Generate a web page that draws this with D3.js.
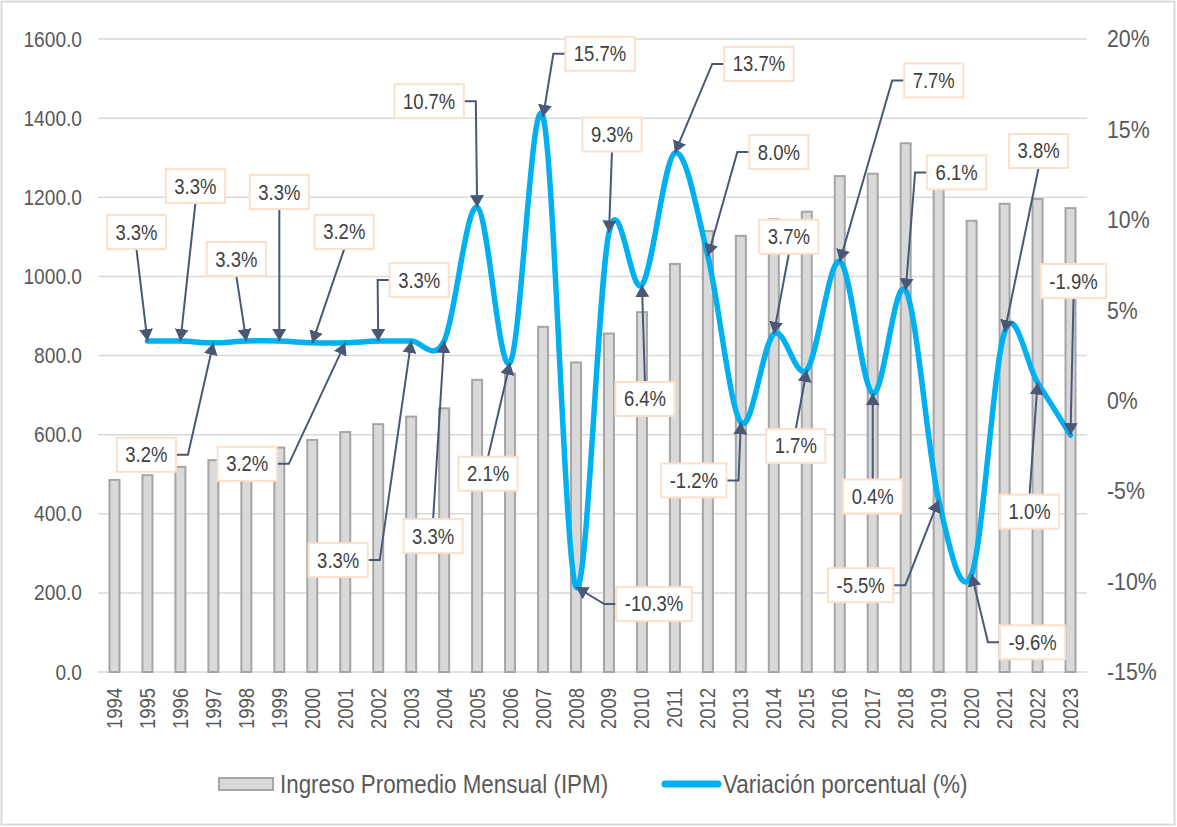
<!DOCTYPE html>
<html>
<head>
<meta charset="utf-8">
<script src="https://cdn.jsdelivr.net/npm/d3@7"></script>
<style>
  body { margin: 0; background: #fff; }
  svg text { font-family: "Liberation Sans", Arial, sans-serif; }
</style>
</head>
<body>
<svg id="chart" width="1177" height="827"></svg>
<script>
// categories
const years = [1994, 1995, 1996, 1997, 1998, 1999, 2000, 2001, 2002, 2003, 2004, 2005, 2006, 2007, 2008,
  2009, 2010, 2011, 2012, 2013, 2014, 2015, 2016, 2017, 2018, 2019, 2020, 2021, 2022, 2023];

// Ingreso Promedio Mensual (IPM)
const ipm = [488, 500, 521, 538, 553, 570, 589, 609, 629, 648, 669, 741, 757, 875, 785,
  858, 912, 1034, 1117, 1105, 1147, 1166, 1256, 1262, 1339, 1265, 1143, 1186, 1198, 1175];

// Variacion porcentual (%), from 1995
const varYears = years.slice(1);
const variation = [3.3, 3.3, 3.2, 3.3, 3.3, 3.2, 3.2, 3.3, 3.3, 3.3, 10.7, 2.1, 15.7, -10.3,
  9.3, 6.4, 13.7, 8.0, -1.2, 3.7, 1.7, 7.7, 0.4, 6.1, -5.5, -9.6, 3.8, 1.0, -1.9];

const leftTicks = [0, 200, 400, 600, 800, 1000, 1200, 1400, 1600];
const rightTicks = [-15, -10, -5, 0, 5, 10, 15, 20];

// callout placement: box offset from point (px) and leader type
// b = from box bottom, t = from box top, l/r = elbow from left/right side
const calloutLayout = [
  [-11, -109, 'b'], [15, -155, 'b'], [-67, 112, 'r'], [-10, -82, 'b'], [0, -149, 'b'],
  [32, -111, 'b'], [-98, 121, 'r'], [41, -61, 'l'], [-73, 219, 'r'], [-11, 195, 't'],
  [-48, -106, 'r'], [-22, 111, 't'], [57, -63, 'l'], [78, 17, 'l'], [3, -98, 'b'],
  [3, 114, 't'], [84, -89, 'l'], [71, -104, 'l'], [-47, 58, 'r'], [15, -97, 'b'],
  [-11, 76, 't'], [94, -181, 'l'], [0, 103, 't'], [51, -118, 'l'], [-78, 85, 'r'],
  [61, 68, 'l'], [34, -181, 'b'], [-8, 129, 't'], [3, -154, 'b']
];

// squeeze text horizontally, the chart uses a narrow face
function narrow(sel, k = 0.82) {
  sel.each(function () {
    const w = this.getComputedTextLength();
    this.setAttribute('textLength', w * k);
    this.setAttribute('lengthAdjust', 'spacingAndGlyphs');
  });
}

const svg = d3.select('#chart');
const plotLeft = 98, plotRight = 1087, plotTop = 39, plotBottom = 672;

// outer frame
svg.append('rect')
  .attr('x', 1.5).attr('y', 1.5)
  .attr('width', 1173).attr('height', 823)
  .attr('fill', '#fff')
  .attr('stroke', '#d9d9d9')
  .attr('stroke-width', 2);

const x = d3.scaleBand().domain(years).range([plotLeft, plotRight]);
const cx = (yr) => x(yr) + x.bandwidth() / 2;
const yL = d3.scaleLinear().domain([0, 1600]).range([plotBottom, plotTop]);
const yR = d3.scaleLinear().domain([-15, 20]).range([plotBottom, plotTop]);

// gridlines
svg.append('g')
  .selectAll('line')
  .data(leftTicks)
  .enter()
  .append('line')
  .attr('x1', plotLeft).attr('x2', plotRight)
  .attr('y1', (d) => yL(d)).attr('y2', (d) => yL(d))
  .attr('stroke', '#d9d9d9')
  .attr('stroke-width', 1.5);

// left axis
const gLeft = svg.append('g')
  .attr('transform', `translate(${plotLeft},0)`)
  .call(d3.axisLeft(yL).tickValues(leftTicks).tickFormat(d3.format('.1f')).tickSize(0).tickPadding(16));
gLeft.select('.domain').remove();
gLeft.selectAll('text').attr('fill', '#595959').style('font-size', '22px').call(narrow, 0.87);

// right axis
const gRight = svg.append('g')
  .attr('transform', `translate(${plotRight},0)`)
  .call(d3.axisRight(yR).tickValues(rightTicks).tickFormat((d) => d + '%').tickSize(0).tickPadding(20));
gRight.select('.domain').remove();
gRight.selectAll('text').attr('fill', '#595959').style('font-size', '24.5px').call(narrow, 0.87);

// bottom axis
const gBottom = svg.append('g')
  .attr('transform', `translate(0,${plotBottom})`)
  .call(d3.axisBottom(x).tickSize(0));
gBottom.select('.domain').remove();
gBottom.selectAll('text')
  .attr('fill', '#595959')
  .style('font-size', '22px')
  .attr('text-anchor', 'end')
  .attr('y', 0)
  .attr('dy', null)
  .attr('dominant-baseline', 'central')
  .attr('transform', 'translate(0,16) rotate(-90)')
  .call(narrow, 0.84);

// bars
svg.append('g')
  .selectAll('rect')
  .data(years)
  .enter()
  .append('rect')
  .attr('x', (d) => cx(d) - 5)
  .attr('width', 10)
  .attr('y', (d, i) => yL(ipm[i]) + 1)
  .attr('height', (d, i) => plotBottom - yL(ipm[i]) - 1)
  .attr('fill', '#d9d9d9')
  .attr('stroke', '#a5a5a5')
  .attr('stroke-width', 2);

// smooth line
const points = varYears.map((yr, i) => ({ year: yr, v: variation[i], px: cx(yr), py: yR(variation[i]) }));
const line = d3.line()
  .x((d) => d.px)
  .y((d) => d.py)
  .curve(d3.curveCatmullRom.alpha(0));
svg.append('path')
  .datum(points)
  .attr('d', line)
  .attr('fill', 'none')
  .attr('stroke', '#00b0f0')
  .attr('stroke-width', 5.5)
  .attr('stroke-linecap', 'round')
  .attr('stroke-linejoin', 'round');

// arrow marker
svg.append('defs')
  .append('marker')
  .attr('id', 'arrow')
  .attr('markerUnits', 'userSpaceOnUse')
  .attr('viewBox', '0 0 12 14')
  .attr('refX', 12).attr('refY', 7)
  .attr('markerWidth', 12).attr('markerHeight', 14)
  .attr('orient', 'auto')
  .append('path')
  .attr('d', 'M0,0 L12,7 L0,14 Z')
  .attr('fill', '#4a5878');

// callouts
const fmt = (v) => v.toFixed(1) + '%';
const callouts = svg.append('g');
points.forEach((p, i) => {
  const [dx, dy, kind] = calloutLayout[i];
  const bx = p.px + dx, by = p.py + dy;
  const t = callouts.append('text')
    .attr('x', bx).attr('y', by)
    .attr('text-anchor', 'middle')
    .attr('dominant-baseline', 'central')
    .attr('fill', '#404040')
    .style('font-size', '22px')
    .text(fmt(p.v));
  t.call(narrow, 0.84);
  const w = +t.attr('textLength') + 17;
  const h = 34;

  let path;
  if (kind === 'b') path = [[bx, by + h / 2], [p.px, p.py]];
  else if (kind === 't') path = [[bx, by - h / 2], [p.px, p.py]];
  else if (kind === 'r') path = [[bx + w / 2, by], [bx + w / 2 + 12, by], [p.px, p.py]];
  else path = [[bx - w / 2, by], [bx - w / 2 - 12, by], [p.px, p.py]];

  callouts.insert('path', 'text')
    .attr('d', d3.line()(path))
    .attr('fill', 'none')
    .attr('stroke', '#4a5878')
    .attr('stroke-width', 2)
    .attr('marker-end', 'url(#arrow)');

  callouts.insert('rect', 'text')
    .attr('x', bx - w / 2).attr('y', by - h / 2)
    .attr('width', w).attr('height', h)
    .attr('fill', '#fff')
    .attr('stroke', '#fbe0cc')
    .attr('stroke-width', 2);
});

// legend
const legend = svg.append('g');
legend.append('rect')
  .attr('x', 219).attr('y', 778)
  .attr('width', 54).attr('height', 12)
  .attr('fill', '#d9d9d9')
  .attr('stroke', '#a5a5a5')
  .attr('stroke-width', 2);
legend.append('text')
  .attr('x', 280).attr('y', 784)
  .attr('dominant-baseline', 'central')
  .attr('fill', '#595959')
  .style('font-size', '26px')
  .text('Ingreso Promedio Mensual (IPM)')
  .call(narrow, 0.86);
legend.append('line')
  .attr('x1', 665).attr('x2', 718)
  .attr('y1', 784).attr('y2', 784)
  .attr('stroke', '#00b0f0')
  .attr('stroke-width', 7)
  .attr('stroke-linecap', 'round');
legend.append('text')
  .attr('x', 723).attr('y', 784)
  .attr('dominant-baseline', 'central')
  .attr('fill', '#595959')
  .style('font-size', '26px')
  .text('Variación porcentual (%)')
  .call(narrow, 0.865);
</script>
</body>
</html>
